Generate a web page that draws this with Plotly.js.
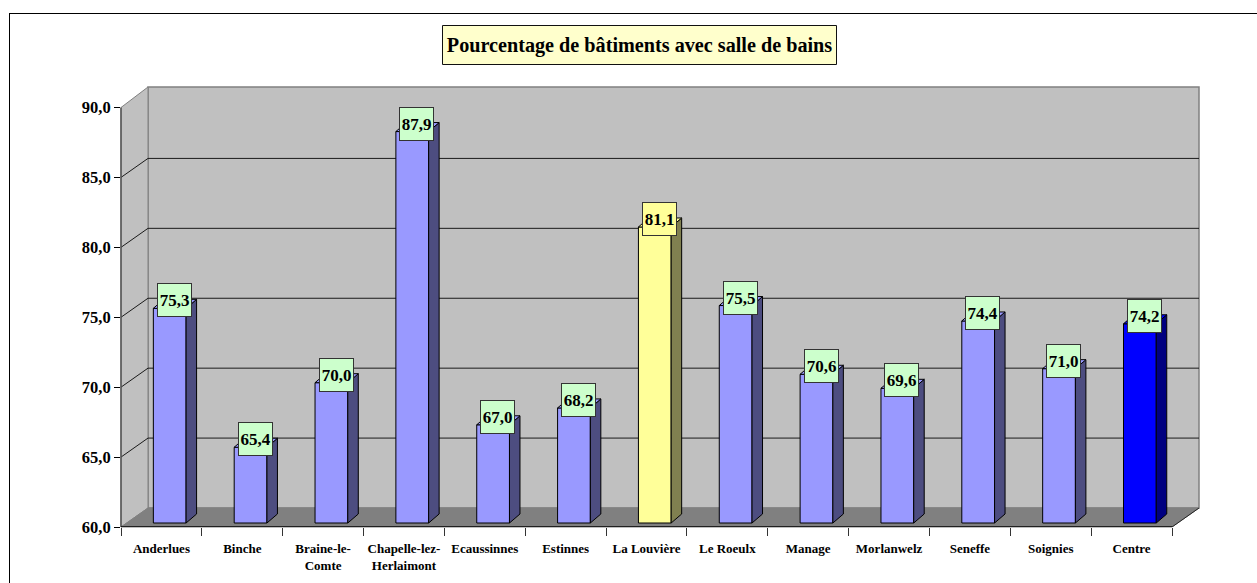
<!DOCTYPE html>
<html><head><meta charset="utf-8">
<script src="https://cdn.plot.ly/plotly-3.0.1.min.js"></script>
<style>html,body{margin:0;padding:0;background:#fff;overflow:hidden}</style>
</head><body><div id="chart" style="width:1257px;height:583px"></div>
<script>
const categories = ["Anderlues","Binche","Braine-le-<br>Comte","Chapelle-lez-<br>Herlaimont","Ecaussinnes","Estinnes","La Louvière","Le Roeulx","Manage","Morlanwelz","Seneffe","Soignies","Centre"];
const values = [75.3,65.4,70.0,87.9,67.0,68.2,81.1,75.5,70.6,69.6,74.4,71.0,74.2];
const yTicks = [60,65,70,75,80,85,90];
const frontColors = ["#9999FF","#9999FF","#9999FF","#9999FF","#9999FF","#9999FF","#FFFF99","#9999FF","#9999FF","#9999FF","#9999FF","#9999FF","#0000FF"];
const sideColors = ["#4D4D80","#4D4D80","#4D4D80","#4D4D80","#4D4D80","#4D4D80","#808050","#4D4D80","#4D4D80","#4D4D80","#4D4D80","#4D4D80","#000080"];
const labelColors = ["#CCFFCC","#CCFFCC","#CCFFCC","#CCFFCC","#CCFFCC","#CCFFCC","#FFFF99","#CCFFCC","#CCFFCC","#CCFFCC","#CCFFCC","#CCFFCC","#CCFFCC"];

const W = 1257, H = 583;
const px = x => x / W, py = y => 1 - y / H;
const FL = 121, FR = 1172, BL = 148, BR = 1199, PB = 527, PT = 87, BB = 508;
const catW = (FR - FL) / 13;
const unit = (PB - 107.5) / 30;
const yRange = [60, 60 + (PB - PT) / unit];
const xRange = [-0.5, -0.5 + (BR - FL) / catW];
const depthY = (PB - BB) / unit;

// bars sit slightly inside the floor
const barUnit = 14.03, barDX = 8.3, barDY = 4;
const x2Range = [xRange[0] - barDX / catW, xRange[1] - barDX / catW];
const y2Low = 60 - barDY / barUnit;
const y2Range = [y2Low, y2Low + (PB - PT) / barUnit];
const barW = 0.405, sdx = 10.5 / catW, sdy = 9 / barUnit;

const font = "'Liberation Serif','Times New Roman',serif";
const traces = [];
traces.push({type:'scatter', x:categories, y:values, mode:'markers', marker:{opacity:0,size:1}, hoverinfo:'skip', showlegend:false, xaxis:'x', yaxis:'y'});
traces.push({type:'bar', x:values.map((v,i)=>i), y:values.map(v=>v-60), base:60, width:barW,
  marker:{color:frontColors, line:{color:'#000',width:1}}, xaxis:'x2', yaxis:'y2', showlegend:false,
  hovertext:values.map(v=>v.toFixed(1).replace('.',',')), hoverinfo:'text'});
values.forEach((v,i)=>{
  const r = i + barW/2, l = i - barW/2;
  traces.push({type:'scatter', mode:'lines', x:[r,r+sdx,r+sdx,r,r], y:[v,v+sdy,60+sdy,60,v], fill:'toself', fillcolor:sideColors[i],
    line:{color:'#000',width:1}, hoverinfo:'skip', showlegend:false, xaxis:'x2', yaxis:'y2'});
  traces.push({type:'scatter', mode:'lines', x:[l,l+sdx,r+sdx,r,l], y:[v,v+sdy,v+sdy,v,v], fill:'toself', fillcolor:frontColors[i],
    line:{color:'#000',width:1}, hoverinfo:'skip', showlegend:false, xaxis:'x2', yaxis:'y2'});
});

const shapes = [];
// outer frame: left and top edges only
shapes.push({type:'line',xref:'paper',yref:'paper',x0:px(9.5),x1:px(9.5),y0:py(13),y1:0,line:{color:'#000',width:1}});
shapes.push({type:'line',xref:'paper',yref:'paper',x0:px(9),x1:1,y0:py(13.5),y1:py(13.5),line:{color:'#000',width:1}});
// title box
shapes.push({type:'rect',xref:'paper',yref:'paper',x0:px(442.5),x1:px(836.5),y0:py(25.5),y1:py(64.5),fillcolor:'#FFFFCC',line:{color:'#111',width:1},layer:'below'});
// walls and floor
shapes.push({type:'rect',xref:'paper',yref:'paper',x0:px(BL),x1:px(BR),y0:py(BB),y1:py(PT),fillcolor:'#C0C0C0',line:{color:'#808080',width:1.5},layer:'below'});
shapes.push({type:'path',xref:'paper',yref:'paper',path:`M${px(FL)},${py(107.5)}L${px(BL)},${py(PT)}L${px(BL)},${py(BB)}L${px(FL)},${py(PB)}Z`,fillcolor:'#C0C0C0',line:{color:'#808080',width:1},layer:'below'});
shapes.push({type:'path',xref:'paper',yref:'paper',path:`M${px(FL)},${py(PB)}L${px(BL)},${py(BB)}L${px(BR)},${py(BB)}L${px(FR)},${py(PB)}Z`,fillcolor:'#808080',line:{color:'#808080',width:1},layer:'below'});
// gridlines
yTicks.slice(1,-1).forEach(t=>{
  shapes.push({type:'line',xref:'paper',yref:'y',x0:px(BL),x1:px(BR),y0:t+depthY,y1:t+depthY,line:{color:'#1a1a1a',width:1},layer:'below'});
  shapes.push({type:'line',xref:'paper',yref:'y',x0:px(FL),x1:px(BL),y0:t,y1:t+depthY,line:{color:'#1a1a1a',width:1},layer:'below'});
});
// axis lines
shapes.push({type:'line',xref:'paper',yref:'y',x0:px(FL),x1:px(FL),y0:60,y1:90,line:{color:'#555',width:1.5}});
shapes.push({type:'line',xref:'paper',yref:'y',x0:px(FL),x1:px(FR),y0:60,y1:60,line:{color:'#000',width:1.5}});
shapes.push({type:'line',xref:'paper',yref:'y',x0:px(FR),x1:px(BR),y0:60,y1:60+depthY,line:{color:'#222',width:1}});

const annotations = values.map((v,i)=>({
  xref:'x2', yref:'y2', x:i, y:v, xshift:4.6, yshift:8, text:v.toFixed(1).replace('.',','),
  showarrow:false, bgcolor:labelColors[i], bordercolor:'#333', borderwidth:1, borderpad:0,
  width:33, height:32, align:'center', valign:'middle',
  font:{family:font,size:17,color:'#000',weight:'bold'}
}));

const layout = {
  width:W, height:H, margin:{l:0,r:0,t:0,b:0,pad:0}, paper_bgcolor:'#fff', plot_bgcolor:'rgba(0,0,0,0)',
  title:{text:'<b>Pourcentage de bâtiments avec salle de bains</b>', x:639.5/W, xanchor:'center', xref:'paper', y:py(45), yanchor:'middle', yref:'paper', font:{family:font,size:20.2,color:'#000'}},
  showlegend:false, bargap:0.595, hovermode:'closest',
  xaxis:{domain:[px(FL),px(BR)], type:'category', categoryorder:'array', categoryarray:categories, range:xRange, tickson:'boundaries',
    ticks:'outside', ticklen:8, tickwidth:1, tickcolor:'#333', showgrid:false, zeroline:false, showline:false, anchor:'y', tickangle:0,
    ticklabelstandoff:12, tickfont:{family:font,size:13,color:'#000',weight:'bold'}},
  yaxis:{domain:[py(PB),py(PT)], range:yRange, tickmode:'array', tickvals:yTicks, ticktext:yTicks.map(t=>t.toFixed(1).replace('.',',')),
    ticks:'outside', ticklen:6, tickwidth:1, tickcolor:'#000', showgrid:false, zeroline:false, showline:false, anchor:'x',
    tickfont:{family:font,size:16.5,color:'#000',weight:'bold'}},
  xaxis2:{overlaying:'x', anchor:'y2', range:x2Range, visible:false, type:'linear'},
  yaxis2:{overlaying:'y', anchor:'x2', range:y2Range, visible:false, type:'linear'},
  shapes, annotations
};
Plotly.newPlot('chart', traces, layout, {displayModeBar:false, responsive:false});
</script></body></html>
